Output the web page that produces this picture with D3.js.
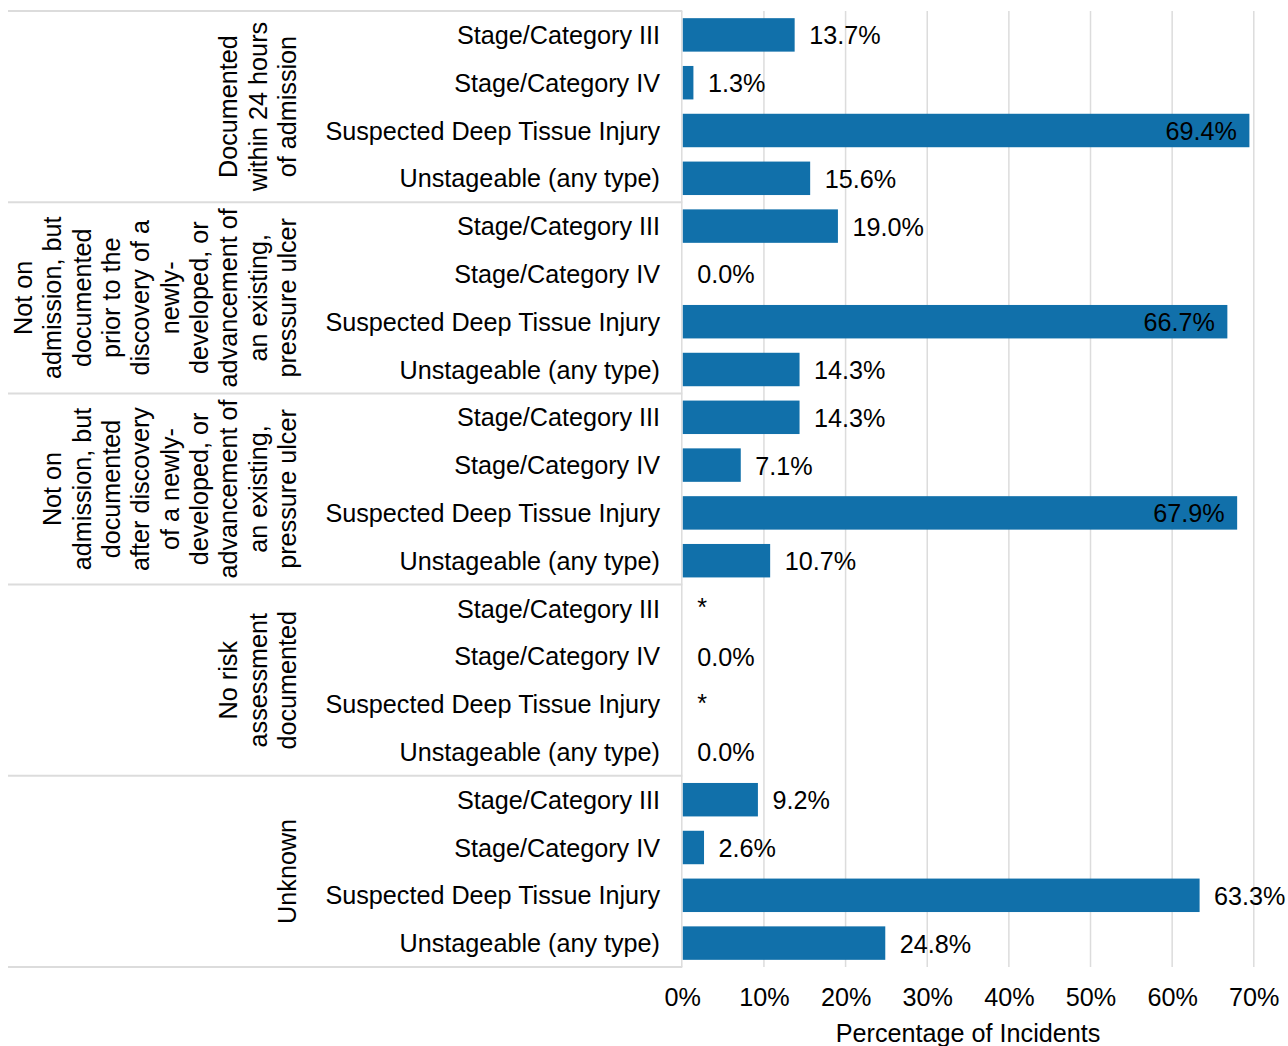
<!DOCTYPE html>
<html>
<head>
<meta charset="utf-8">
<script src="https://cdn.jsdelivr.net/npm/d3@7"></script>
<style>
  html, body { margin: 0; padding: 0; background: #fff; }
  svg text { font-family: "Liberation Sans", Arial, sans-serif; fill: #000; }
</style>
</head>
<body>
<svg id="chart" width="1288" height="1046"></svg>
<script>
// ---- Data ----
const groups = [
  ["Documented", "within 24 hours", "of admission"],
  ["Not on", "admission, but", "documented", "prior to the", "discovery of a", "newly-", "developed, or", "advancement of", "an existing,", "pressure ulcer"],
  ["Not on", "admission, but", "documented", "after discovery", "of a newly-", "developed, or", "advancement of", "an existing,", "pressure ulcer"],
  ["No risk", "assessment", "documented"],
  ["Unknown"]
];
const categories = ["Stage/Category III", "Stage/Category IV", "Suspected Deep Tissue Injury", "Unstageable (any type)"];
const valuesDocumented24h = [13.7, 1.3, 69.4, 15.6];
const valuesPriorToDiscovery = [19.0, 0.0, 66.7, 14.3];
const valuesAfterDiscovery = [14.3, 7.1, 67.9, 10.7];
const valuesNoAssessment = [null, 0.0, null, 0.0];   // null = suppressed (*)
const valuesUnknown = [9.2, 2.6, 63.3, 24.8];
const seriesValues = [valuesDocumented24h, valuesPriorToDiscovery, valuesAfterDiscovery, valuesNoAssessment, valuesUnknown];
const tickValues = [0, 10, 20, 30, 40, 50, 60, 70];
const axisTitle = "Percentage of Incidents";

// ---- Build rows ----
const rows = [];
seriesValues.forEach((vals, g) => {
  categories.forEach((c, i) => rows.push({ key: g + "-" + i, group: g, category: c, value: vals[i] }));
});

// ---- Layout ----
const W = 1288, H = 1046;
const plotLeft = 682.3, plotTop = 11, plotBottom = 967;
const FS = 25.2;
const barColor = "#1170aa";
const gridColor = "#dcdcdc";

const x = d3.scaleLinear().domain([0, 70]).range([plotLeft, 1253.8]);
const y = d3.scaleBand().domain(rows.map(d => d.key)).range([plotTop, plotBottom]).paddingInner(0.3).paddingOuter(0.15);

const svg = d3.select("#chart");

// gridlines
svg.append("g")
  .selectAll("line").data(tickValues.filter(t => t > 0)).join("line")
  .attr("x1", d => x(d)).attr("x2", d => x(d))
  .attr("y1", plotTop).attr("y2", plotBottom)
  .attr("stroke", gridColor).attr("stroke-width", 1.5);

// group separators (horizontal lines in the label panel)
const step = y.step();
const sepYs = d3.range(groups.length + 1).map(g => plotTop + g * categories.length * step);
svg.append("g")
  .selectAll("line").data(sepYs).join("line")
  .attr("x1", 8).attr("x2", plotLeft)
  .attr("y1", d => d).attr("y2", d => d)
  .attr("stroke", gridColor).attr("stroke-width", 2);

// vertical border at panel edge
svg.append("line")
  .attr("x1", plotLeft - 0.5).attr("x2", plotLeft - 0.5)
  .attr("y1", plotTop).attr("y2", plotBottom)
  .attr("stroke", gridColor).attr("stroke-width", 1.5);

// bars
svg.append("g")
  .selectAll("rect").data(rows.filter(d => d.value !== null && d.value > 0)).join("rect")
  .attr("x", x(0) + 0.5)
  .attr("y", d => y(d.key))
  .attr("width", d => x(d.value) - x(0))
  .attr("height", y.bandwidth())
  .attr("fill", barColor);

// value labels
const lbl = svg.append("g").selectAll("text").data(rows).join("text")
  .attr("font-size", FS)
  .attr("y", d => y(d.key) + y.bandwidth() / 2)
  .attr("dy", "0.38em")
  .text(d => d.value === null ? "*" : d.value.toFixed(1) + "%");
lbl.each(function(d) {
  const t = d3.select(this);
  const v = d.value === null ? 0 : d.value;
  const w = this.getComputedTextLength();
  const outX = x(v) + 15;
  if (outX + w > W) {
    t.attr("x", x(v) - 12).attr("text-anchor", "end");
  } else {
    t.attr("x", outX).attr("text-anchor", "start");
  }
  if (d.value === null) t.attr("dy", "0.3em");
});

// category labels
svg.append("g").selectAll("text").data(rows).join("text")
  .attr("font-size", FS)
  .attr("x", 660)
  .attr("y", d => y(d.key) + y.bandwidth() / 2)
  .attr("dy", "0.36em")
  .attr("text-anchor", "end")
  .text(d => d.category);

// group labels (rotated)
const lineGap = 29.3;
groups.forEach((lines, g) => {
  const cy = (sepYs[g] + sepYs[g + 1]) / 2;
  const n = lines.length;
  lines.forEach((ln, i) => {
    const cx = 287 - (n - 1 - i) * lineGap;
    svg.append("text")
      .attr("font-size", FS)
      .attr("text-anchor", "middle")
      .attr("transform", `translate(${cx},${cy}) rotate(-90)`)
      .attr("dy", "0.35em")
      .text(ln);
  });
});

// x axis
const xAxis = d3.axisBottom(x).tickValues(tickValues).tickFormat(d => d + "%").tickSize(0).tickPadding(0);
const ax = svg.append("g").attr("transform", `translate(0,${plotBottom})`).call(xAxis);
ax.select(".domain").remove();
ax.selectAll("text")
  .attr("font-size", FS)
  .attr("font-family", '"Liberation Sans", Arial, sans-serif')
  .attr("fill", "#000")
  .attr("dy", null)
  .attr("y", 39);

// axis title
svg.append("text")
  .attr("font-size", FS)
  .attr("text-anchor", "middle")
  .attr("x", (x(0) + x(70)) / 2)
  .attr("y", 1042)
  .text(axisTitle);
</script>
</body>
</html>
